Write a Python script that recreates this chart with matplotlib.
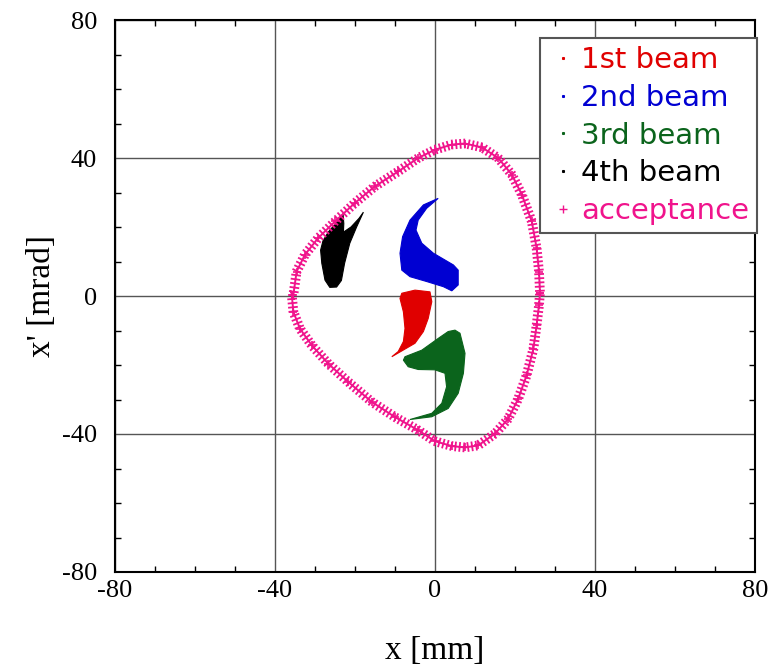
import matplotlib
matplotlib.use("Agg")
import matplotlib.pyplot as plt
import matplotlib.patheffects as pe
from matplotlib.lines import Line2D

# ---- beam outlines in phase space: x [mm], x' [mrad] ----
beam1_x = [-8.3, -5.0, -1.25, -0.8, -1.7, -2.9, -5.0, -10.8, -9.2, -7.9, -7.5, -7.9, -8.75]
beam1_xp = [0.8, 1.7, 1.2, -1.65, -6.5, -10.3, -13.7, -17.6, -16.1, -13.2, -9.4, -4.6, -0.7]

beam2_x = [0.8, -2.9, -6.25, -8.1, -8.75, -8.3, -6.25, -2.1, 2.1, 4.2, 5.8, 5.8, 4.6,
           -0.4, -3.3, -4.75, -4.2, -2.1]
beam2_xp = [28.3, 26.4, 22.0, 17.2, 12.4, 7.5, 5.6, 4.2, 2.7, 1.5, 3.2, 7.5, 9.0,
            12.4, 15.3, 19.1, 22.0, 25.4]

beam3_x = [5.0, 6.25, 7.5, 7.1, 5.8, 3.3, -0.8, -6.25, -0.8, 1.7, 2.9, 2.5, 0.0,
           -4.2, -6.7, -7.9, -7.5, -3.3, 0.8, 3.3]
beam3_xp = [-9.9, -10.8, -16.6, -22.4, -28.2, -32.6, -35.0, -35.8, -34.0, -31.1, -26.3,
            -22.4, -21.4, -21.3, -20.5, -18.6, -17.6, -15.7, -12.3, -10.3]

beam4_x = [-17.9, -19.6, -21.3, -22.6, -23.4, -24.6, -26.3, -27.5, -28.3, -28.6, -28.0,
           -26.7, -24.5, -23.0, -22.8, -22.9, -21.0, -19.0]
beam4_xp = [24.3, 20.0, 15.3, 9.5, 4.5, 2.6, 2.5, 4.6, 9.5, 13.3, 16.0,
            18.5, 21.5, 23.8, 21.0, 18.5, 20.0, 22.5]

# ---- acceptance boundary ----
acc_x = [26.25, 26.0, 25.4, 24.2, 21.7, 19.2, 15.8, 11.7, 7.5, 4.2, 0.0, -4.2, -9.2,
         -15.0, -20.0, -25.0, -29.2, -32.5, -34.6, -35.4, -35.8, -35.4, -33.75, -30.8,
         -26.7, -21.7, -15.8, -10.0, -4.2, 0.0, 4.2, 7.5, 10.8, 15.0, 18.3, 20.8, 22.9,
         24.6, 25.4, 26.0, 26.25]
acc_xp = [0.9, 7.1, 13.9, 21.6, 29.4, 35.2, 40.0, 43.1, 44.2, 43.9, 42.4, 40.0, 36.1,
          31.8, 27.0, 21.6, 16.8, 12.0, 7.1, 0.4, 0.2, -4.6, -9.5, -14.3,
          -19.6, -24.9, -30.7, -35.1, -38.9, -42.1, -43.5, -43.9, -43.3, -39.9, -35.6,
          -29.8, -23.0, -15.3, -8.5, -2.7, 0.9]

labels = ["1st beam", "2nd beam", "3rd beam", "4th beam", "acceptance"]
colors = ["#e00000", "#0000d2", "#0b641c", "#000000", "#f0148c"]

xticks = [-80, -40, 0, 40, 80]
yticks = [-80, -40, 0, 40, 80]

plt.rcParams["axes.unicode_minus"] = False

fig = plt.figure(figsize=(7.8, 6.7), dpi=100)
ax = fig.add_axes([115 / 780, 98 / 670, 640 / 780, 552 / 670])

beams = [(beam1_x, beam1_xp), (beam2_x, beam2_xp), (beam3_x, beam3_xp), (beam4_x, beam4_xp)]
for (bx, bxp), c in zip(beams, colors[:4]):
    ax.fill(bx, bxp, color=c, lw=0.8, ec=c, zorder=3)

# acceptance: dense crosses along the boundary
ax.plot(acc_x, acc_xp, color=colors[4], lw=1.4, zorder=4,
        path_effects=[pe.Stroke(),
                      pe.TickedStroke(spacing=3.0, angle=90, length=0.95, linewidth=1.3),
                      pe.TickedStroke(spacing=3.0, angle=-90, length=0.95, linewidth=1.3)])
ax.plot(acc_x, acc_xp, ls="none", marker="+", ms=6, mew=1.2, color=colors[4], zorder=4)

ax.set_xlim(-80, 80)
ax.set_ylim(-80, 80)
ax.set_xticks(xticks)
ax.set_yticks(yticks)
ax.set_xticks(range(-80, 81, 10), minor=True)
ax.set_yticks(range(-80, 81, 10), minor=True)
ax.tick_params(which="both", direction="in", top=True, right=True)
ax.tick_params(which="major", length=0, pad=6)
ax.tick_params(which="minor", length=4, width=1)
ax.tick_params(axis="y", which="major", pad=13)
ax.grid(True, which="major", color="#555555", lw=1)
ax.set_axisbelow(True)
for s in ax.spines.values():
    s.set_linewidth(1.5)

for lab in ax.get_xticklabels() + ax.get_yticklabels():
    lab.set_fontfamily("Liberation Serif")
    lab.set_fontsize(19)

ax.set_xlabel("x [mm]", fontfamily="Liberation Serif", fontsize=24)
ax.set_ylabel("x' [mrad]", fontfamily="Liberation Serif", fontsize=24)
ax.xaxis.set_label_coords(0.5, -0.115)
ax.yaxis.set_label_coords(-0.091, 0.5)

handles = [Line2D([], [], ls="none", marker="s", ms=1.2, color=c) for c in colors[:4]]
handles.append(Line2D([], [], ls="none", marker="+", ms=6, mew=1.0, color=colors[4]))
leg = ax.legend(handles, labels, loc="upper right", bbox_to_anchor=(1.003, 0.967),
                borderaxespad=0, fancybox=False, framealpha=1, edgecolor="#555555",
                prop={"family": "DejaVu Sans", "size": 21}, labelcolor=colors,
                handlelength=1.0, handletextpad=0.12, labelspacing=0.33,
                borderpad=0.28)
leg.get_frame().set_linewidth(1.5)

fig.savefig("out.png", dpi=100)
